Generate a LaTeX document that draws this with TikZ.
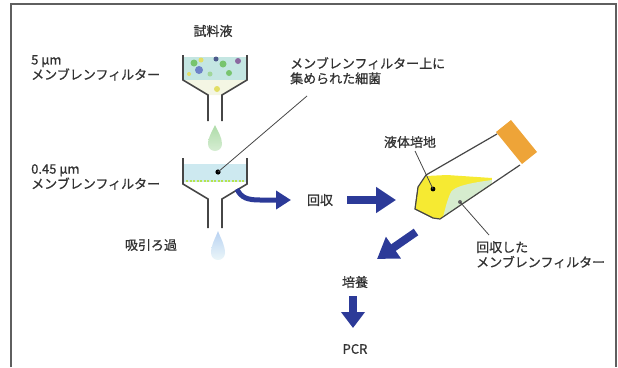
\documentclass[tikz,border=0pt]{standalone}
\usepackage{fontspec}
\setmainfont{Noto Sans CJK JP}
\newfontfamily\lblfont{Noto Sans CJK JP}[FakeBold=0.8]
\usetikzlibrary{arrows.meta}
\definecolor{framegray}{RGB}{95,95,95}
\definecolor{txt}{RGB}{50,50,50}
\definecolor{wall}{RGB}{70,70,70}
\definecolor{flowblue}{RGB}{44,58,152}
\definecolor{sample}{RGB}{196,230,226}
\definecolor{filtrate}{RGB}{205,233,240}
\definecolor{cone}{RGB}{244,246,228}
\definecolor{pgreen}{RGB}{120,196,110}
\definecolor{pyellow}{RGB}{226,222,100}
\definecolor{pblue}{RGB}{110,130,200}
\definecolor{medium}{RGB}{246,234,50}
\definecolor{mediumedge}{RGB}{150,140,40}
\definecolor{membr}{RGB}{214,236,206}
\definecolor{capor}{RGB}{238,164,56}
\begin{document}
\begin{tikzpicture}[x=1pt,y=-1pt,
  lbl/.style={font=\lblfont\fontsize{13}{15}\selectfont, text=txt, inner sep=0pt, align=left},
  leader/.style={draw=wall, line width=0.8pt},
  funnelwall/.style={draw=wall, line width=1.6pt},
  fat/.style={draw=flowblue, line width=8pt, -{Triangle[length=20pt,width=25pt]}},
  slim/.style={draw=flowblue, line width=5pt, -{Triangle[length=15pt,width=18pt]}}]
\useasboundingbox (0,0) rectangle (618,367);

% outer frame, open at the bottom
\draw[framegray, line width=1.3pt] (11,367) -- (11,4) -- (616,4) -- (616,367);

% ---------- 5 um funnel ----------
\fill[sample] (184,57) rectangle (246,80);
\fill[cone] (184,80) -- (246,80) -- (222,95) -- (208,95) -- cycle;
% suspended particles
\fill[pgreen] (194,63) circle (3.5);
\fill[pyellow] (201,60) circle (2.5);
\fill[pblue] (199,70) circle (4);
\fill[pblue!70!black] (216,59) circle (2.5);
\fill[pgreen] (223,64) circle (3.5);
\fill[pgreen] (229,73) circle (3);
\fill[pblue!80!red] (238,61) circle (3);
\fill[pgreen!70] (210,74) circle (2.5);
\fill[pyellow] (189,74) circle (2);
\fill[pyellow] (217,89) circle (3);
\draw[funnelwall] (183,55) -- (183,80) -- (208,95) -- (208,121);
\draw[funnelwall] (247,55) -- (247,80) -- (222,95) -- (222,121);
% green drop
\shade[top color=pgreen!60, bottom color=pgreen!30!white]
  (215,125) .. controls (218,132) and (222,137) .. (222,144)
  arc[start angle=0, end angle=180, radius=7]
  .. controls (208,137) and (212,132) .. (215,125);

% ---------- 0.45 um funnel ----------
\fill[filtrate] (184,164) rectangle (246,182);
\draw[pyellow!80!green, line width=1.5pt, dash pattern=on 2pt off 1.5pt] (186,181) -- (244,181);
\draw[funnelwall] (183,158) -- (183,184) -- (208,199) -- (208,228);
\draw[funnelwall] (247,158) -- (247,184) -- (222,199) -- (222,228);
\coordinate (cells) at (218,172);
\fill[black] (cells) circle (2.6);
% light blue drop
\shade[top color=filtrate!90!blue, bottom color=filtrate!40!white]
  (218,231) .. controls (221,239) and (225,245) .. (225,253)
  arc[start angle=0, end angle=180, radius=7]
  .. controls (211,245) and (215,239) .. (218,231);

% ---------- culture tube ----------
\fill[medium] (426,176) -- (447,175) -- (492,178) -- (491,185)
  -- (440,219) -- (433,218) -- (415,209) -- (418,187) -- cycle;
\fill[membr] (492,180) .. controls (470,183) and (455,186) .. (451,192)
  .. controls (447,200) and (445,210) .. (443,217) -- (491,185) -- cycle;
\draw[mediumedge, line width=0.7pt] (418,187) -- (415,209) -- (433,218);
\draw[wall, line width=1.2pt] (497,134) -- (426,175) -- (418,187) -- (415,209)
  -- (433,218) -- (440,219) -- (520,165);
\fill[capor] (496,132) -- (511,120) -- (537,152) -- (522,164) -- cycle;
\coordinate (broth) at (433,189);
\fill[black] (broth) circle (2.4);
\coordinate (used) at (460,202);
\fill[black!60] (used) circle (2);

% ---------- labels ----------
\node[lbl] (liquid) at (213,31) {試料液};
\node[lbl, anchor=north west] (f5) at (31,55) {5 μm\\メンブレンフィルター};
\node[lbl, anchor=north west] (f045) at (31,164) {0.45 μm\\メンブレンフィルター};
\node[lbl, anchor=north west] (caught) at (290,57) {メンブレンフィルター上に\\集められた細菌};
\node[lbl] (suction) at (151,245) {吸引ろ過};
\node[lbl] (recover) at (320,200) {回収};
\node[lbl] (brothlbl) at (410,142) {液体培地};
\node[lbl, anchor=north west] (usedlbl) at (476,241) {回収した\\メンブレンフィルター};
\node[lbl] (culture) at (355,282) {培養};
\node[lbl] (pcr) at (355,349) {PCR};

% ---------- leader lines ----------
\draw[leader] (cells) -- (307,96);
\draw[leader] (broth) -- (415,151);
\draw[leader] (used) -- (489,235);

% ---------- process arrows ----------
\coordinate (a1s) at (237,189);
\coordinate (a1e) at (291,200);
\draw[slim] (a1s) .. controls (241,198) and (248,200) .. (260,200) -- (a1e);
\draw[fat] (recover.east) ++(14,0) coordinate (a2s) -- (396,200) coordinate (a2e);
\coordinate (a3s) at (416,232);
\coordinate (a3e) at (377,259);
\draw[fat] (a3s) -- (a3e);
\draw[fat, -{Triangle[length=16pt,width=23pt]}] (culture.south) ++(-2,8) coordinate (a4s) -- (353,328) coordinate (a4e);
\end{tikzpicture}
\end{document}
